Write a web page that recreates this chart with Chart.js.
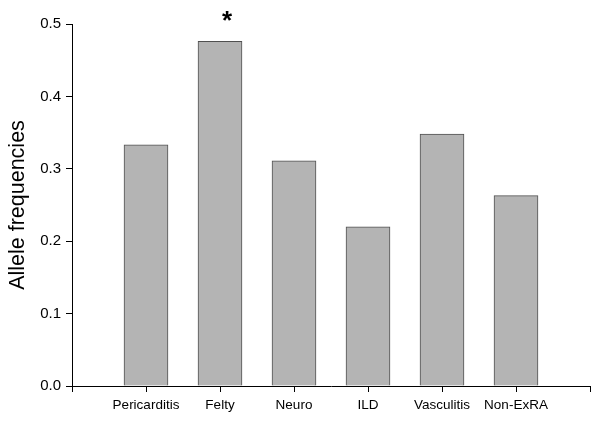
<!DOCTYPE html>
<html>
<head>
<meta charset="utf-8">
<script src="https://cdn.jsdelivr.net/npm/chart.js@4"></script>
<style>
  html, body { margin: 0; padding: 0; background: #fff; }
  #wrap { width: 600px; height: 424px; }
</style>
</head>
<body>
<div id="wrap"><canvas id="chart"></canvas></div>
<script>
// --- Data ---
const groups = ['Pericarditis', 'Felty', 'Neuro', 'ILD', 'Vasculitis', 'Non-ExRA'];
const freqs = [0.333, 0.476, 0.311, 0.220, 0.348, 0.263];
const marks = ['', '*', '', '', '', ''];
const yTicks = [0, 0.1, 0.2, 0.3, 0.4, 0.5];

const FONT = '"Liberation Sans", Arial, sans-serif';

// significance markers above bars
const markPlugin = {
    id: 'marks',
    afterDatasetsDraw(chart) {
        const ctx = chart.ctx;
        const meta = chart.getDatasetMeta(0);
        ctx.save();
        ctx.fillStyle = '#000';
        ctx.font = 'bold 26px ' + FONT;
        ctx.textAlign = 'center';
        ctx.textBaseline = 'alphabetic';
        meta.data.forEach((bar, i) => {
            if (marks[i]) ctx.fillText(marks[i], bar.x + 7, bar.y - 12);
        });
        ctx.restore();
    }
};

const ctx = document.getElementById('chart').getContext('2d');
new Chart(ctx, {
    type: 'bar',
    data: {
        datasets: [{
            data: groups.map((g, i) => ({ x: i + 1, y: freqs[i] })),
            backgroundColor: '#b4b4b4',
            borderColor: '#505050',
            borderWidth: 1,
            borderSkipped: 'bottom',
            barThickness: 44
        }]
    },
    options: {
        responsive: true,
        maintainAspectRatio: false,
        animation: false,
        layout: { padding: { top: 24, right: 10, left: 0, bottom: 0 } },
        plugins: { legend: { display: false }, tooltip: { enabled: false } },
        scales: {
            x: {
                type: 'linear',
                min: 0,
                max: 7,
                offset: false,
                afterBuildTicks: s => { s.ticks = [0, 1, 2, 3, 4, 5, 6, 7].map(v => ({ value: v })); },
                afterFit: s => { s.height = 38; s.paddingLeft = 0; s.paddingRight = 0; },
                grid: { offset: false, drawOnChartArea: false, tickLength: 6, color: '#000', tickColor: '#000' },
                border: { color: '#000', width: 1 },
                ticks: {
                    autoSkip: false,
                    maxRotation: 0,
                    padding: 5,
                    color: '#000',
                    font: { family: FONT, size: 13.5 },
                    callback: v => groups[v - 1] || ''
                }
            },
            y: {
                min: 0,
                max: 0.5,
                afterBuildTicks: s => { s.ticks = yTicks.map(v => ({ value: v })); },
                afterFit: s => { s.width = 72; s.paddingTop = 0; s.paddingBottom = 0; },
                grid: { drawOnChartArea: false, tickLength: 6, color: '#000', tickColor: '#000' },
                border: { color: '#000', width: 1 },
                ticks: {
                    padding: 5,
                    color: '#000',
                    font: { family: FONT, size: 15 },
                    callback: v => v.toFixed(1)
                },
                title: {
                    display: true,
                    text: 'Allele frequencies',
                    color: '#000',
                    font: { family: FONT, size: 21.5 },
                    padding: { top: 5, bottom: 0 }
                }
            }
        }
    },
    plugins: [markPlugin]
});
</script>
</body>
</html>
